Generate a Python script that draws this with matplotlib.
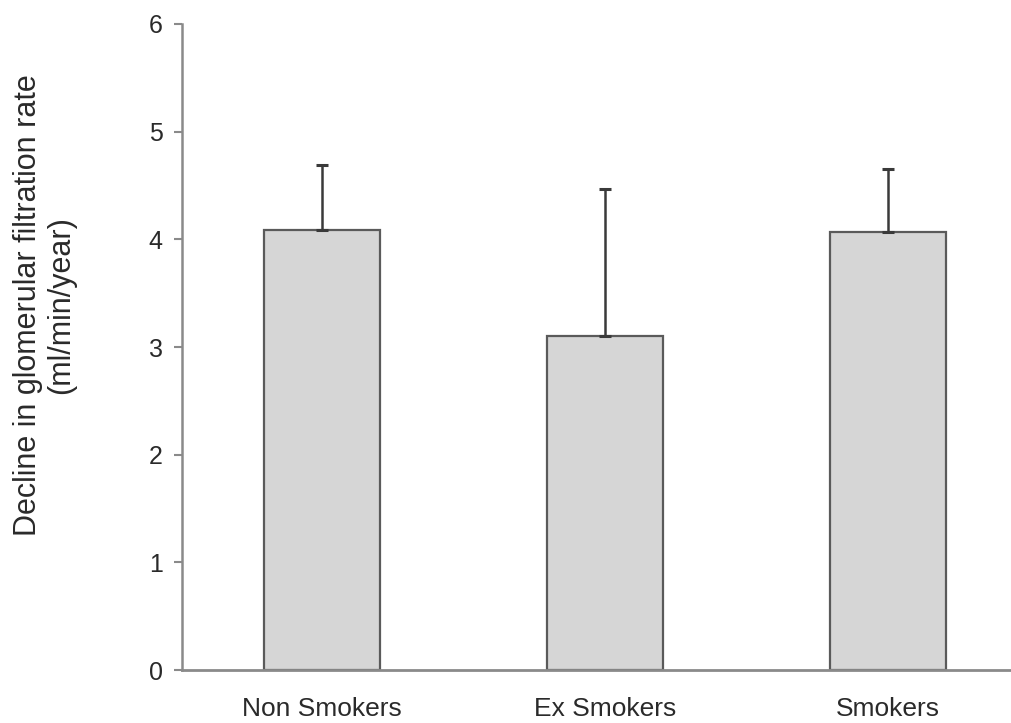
import matplotlib.pyplot as plt
import numpy as np

# values
groups = ['Non Smokers', 'Ex Smokers', 'Smokers']
decline = [4.09, 3.10, 4.07]
sd_upper = [0.60, 1.37, 0.58]

plt.rcParams['font.family'] = ['Liberation Sans', 'DejaVu Sans']

fig = plt.figure(figsize=(10.12, 7.23), dpi=100)
ax = fig.add_axes([0.180, 0.073, 0.818, 0.894])

x = np.arange(len(groups))
ax.bar(x, decline, width=0.41, color='#d6d6d6', edgecolor='#5a5a5a', linewidth=1.6, zorder=2)
ax.errorbar(x, decline, yerr=[np.zeros(len(x)), sd_upper], fmt='none',
            ecolor='#3a3a3a', elinewidth=1.8, capsize=4, capthick=2.2, zorder=3)

ax.set_xlim(-0.495, 2.43)
ax.set_ylim(0, 6)
ax.set_yticks(range(0, 7))
ax.set_xticks(x)
ax.set_xticklabels(groups, fontsize=19, color='#2a2a2a')

for s in ['top', 'right']:
    ax.spines[s].set_visible(False)
ax.spines['left'].set_color('#8a8a8a')
ax.spines['left'].set_linewidth(1.8)
ax.spines['bottom'].set_color('#8a8a8a')
ax.spines['bottom'].set_linewidth(2)

ax.tick_params(axis='x', length=0, pad=19)
ax.tick_params(axis='y', length=6, width=1.5, color='#8a8a8a', pad=8,
               labelsize=18, labelcolor='#2a2a2a')

fig.text(0.044, 0.578, 'Decline in glomerular filtration rate\n(ml/min/year)', fontsize=22,
         color='#2a2a2a', rotation=90, ha='center', va='center', linespacing=1.15)

plt.savefig('out.png', dpi=100)
